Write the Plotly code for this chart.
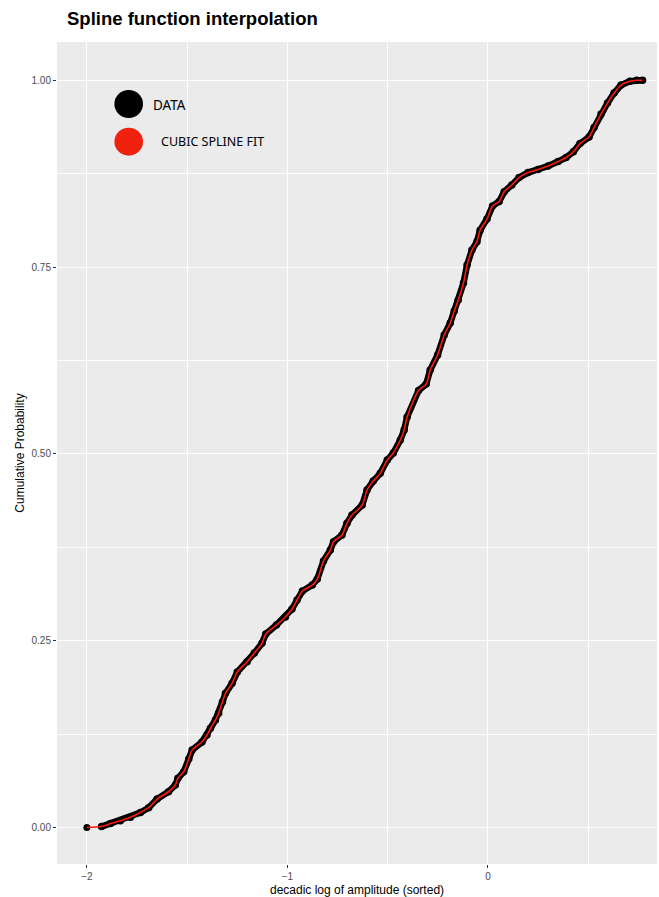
import plotly.graph_objects as go

# Sorted decadic log of amplitude (x) vs cumulative probability (y)
log_amp = [-2.000, -1.927, -1.882, -1.833, -1.783, -1.733, -1.692, -1.650, -1.593, -1.559,
           -1.546, -1.517, -1.492, -1.475, -1.426, -1.401, -1.384, -1.359, -1.343, -1.324,
           -1.309, -1.276, -1.250, -1.201, -1.165, -1.127, -1.108, -1.055, -1.010, -0.977,
           -0.952, -0.925, -0.876, -0.851, -0.820, -0.786, -0.770, -0.728, -0.703, -0.678,
           -0.627, -0.603, -0.572, -0.537, -0.502, -0.472, -0.437, -0.418, -0.403, -0.346,
           -0.308, -0.288, -0.251, -0.218, -0.188, -0.168, -0.148, -0.122, -0.104, -0.080,
           -0.055, -0.039, -0.005, 0.023, 0.056, 0.081, 0.119, 0.155, 0.200, 0.250,
           0.300, 0.350, 0.390, 0.426, 0.459, 0.504, 0.529, 0.564, 0.596, 0.629,
           0.664, 0.708, 0.742, 0.771]
cum_prob = [0.000, 0.0013, 0.0054, 0.0091, 0.0137, 0.0201, 0.0265, 0.0381, 0.0479, 0.0569,
            0.0658, 0.0747, 0.0917, 0.1037, 0.1144, 0.1238, 0.1328, 0.1439, 0.1528, 0.1680,
            0.1796, 0.1930, 0.2081, 0.2219, 0.2335, 0.2465, 0.2590, 0.2710, 0.2817, 0.2924,
            0.3045, 0.3165, 0.3245, 0.3325, 0.3567, 0.3714, 0.3825, 0.3915, 0.4071, 0.4182,
            0.4316, 0.4517, 0.4637, 0.4740, 0.4918, 0.5012, 0.5186, 0.5320, 0.5494, 0.5849,
            0.5935, 0.6123, 0.6324, 0.6591, 0.6752, 0.6912, 0.7059, 0.7287, 0.7528, 0.7728,
            0.7840, 0.7995, 0.8144, 0.8318, 0.8378, 0.8509, 0.8599, 0.8699, 0.8766, 0.8806,
            0.8853, 0.8913, 0.8967, 0.9044, 0.9154, 0.9241, 0.9368, 0.9549, 0.9696, 0.9830,
            0.9937, 0.9987, 1.0001, 1.0000]

x_ticks = [-2, -1, 0]
x_tick_text = ["\u22122", "\u22121", "0"]
y_ticks = [0.0, 0.25, 0.5, 0.75, 1.0]
y_tick_text = ["0.00", "0.25", "0.50", "0.75", "1.00"]

W, H = 659, 897
L, R, T, B = 57, 2, 42, 33
PW, PH = W - L - R, H - T - B

def px_x(p):
    return (p - L) / PW

def px_y(p):
    return 1 - (p - T) / PH

fig = go.Figure()

# first isolated data dot
fig.add_trace(go.Scatter(x=log_amp[:1], y=cum_prob[:1], mode="markers",
                         marker=dict(color="black", size=7), showlegend=False,
                         hoverinfo="skip"))
# data band
fig.add_trace(go.Scatter(x=log_amp[1:], y=cum_prob[1:], mode="lines+markers",
                         line=dict(color="black", width=6.5),
                         marker=dict(color="black", size=7.5), showlegend=False))
# cubic spline fit
fig.add_trace(go.Scatter(x=log_amp, y=cum_prob, mode="lines",
                         line=dict(color="#FF1A0A", width=1.6, shape="spline", smoothing=0.8),
                         showlegend=False))

# legend drawn inside panel
shapes = []
for cy, col in [(104, "black"), (141.7, "#F0220F")]:
    shapes.append(dict(type="circle", xref="paper", yref="paper",
                       x0=px_x(128.7 - 14.3), x1=px_x(128.7 + 14.3),
                       y0=px_y(cy + 14), y1=px_y(cy - 14),
                       fillcolor=col, line=dict(width=0)))
annotations = [
    dict(text="DATA", xref="paper", yref="paper", x=px_x(151), y=px_y(104.5),
         xanchor="left", yanchor="middle", showarrow=False,
         font=dict(family="Noto Sans", size=13.5, color="black")),
    dict(text="CUBIC SPLINE FIT", xref="paper", yref="paper", x=px_x(159), y=px_y(142),
         xanchor="left", yanchor="middle", showarrow=False,
         font=dict(family="Noto Sans", size=12.5, color="black")),
]

axis_common = dict(showline=False, zeroline=False, ticks="outside", ticklen=3,
                   tickcolor="#333333", tickwidth=1, gridcolor="white", gridwidth=1.1,
                   tickfont=dict(family="Liberation Sans", size=10, color="#4D4D4D"))

fig.update_layout(
    width=W, height=H,
    margin=dict(l=L, r=R, t=T, b=B),
    paper_bgcolor="white", plot_bgcolor="#EBEBEB",
    title=dict(text="<b>Spline function interpolation</b>", x=67 / W,
               xanchor="left", y=1 - 19 / H, yanchor="middle",
               font=dict(family="Liberation Sans", size=18.5, color="black")),
    shapes=shapes, annotations=annotations,
    xaxis=dict(range=[-2.149, 0.843], tickvals=x_ticks, ticktext=x_tick_text,
               title=dict(text="decadic log of amplitude (sorted)", standoff=4,
                          font=dict(family="Liberation Sans", size=12, color="black")),
               minor=dict(showgrid=True, gridcolor="white", gridwidth=0.5, dtick=0.5,
                          tick0=-2, ticks=""),
               **axis_common),
    yaxis=dict(range=[-0.0488, 1.0513], tickvals=y_ticks, ticktext=y_tick_text,
               title=dict(text="Cumulative Probability", standoff=4,
                          font=dict(family="Liberation Sans", size=12, color="black")),
               minor=dict(showgrid=True, gridcolor="white", gridwidth=0.5, dtick=0.125,
                          tick0=0, ticks=""),
               **axis_common),
)

fig.write_html("out.html")
